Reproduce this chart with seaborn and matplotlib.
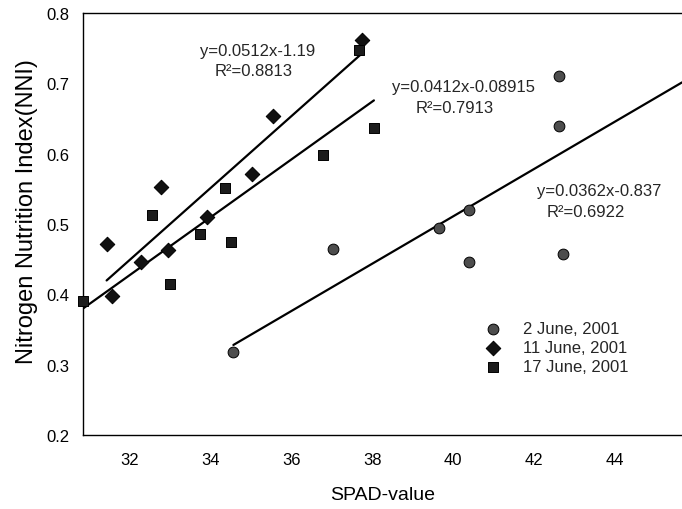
import numpy as np
import pandas as pd
import matplotlib
matplotlib.use("Agg")
import matplotlib.pyplot as plt
import seaborn as sns

# ---- data ----
series_names = ["2 June, 2001", "11 June, 2001", "17 June, 2001"]

june2_x = [34.57, 37.04, 39.65, 40.40, 40.40, 42.60, 42.60, 42.72]
june2_y = [0.318, 0.465, 0.494, 0.446, 0.520, 0.710, 0.640, 0.457]

june11_x = [31.44, 31.57, 32.29, 32.78, 32.95, 33.93, 35.02, 35.54, 37.75]
june11_y = [0.472, 0.398, 0.446, 0.552, 0.463, 0.510, 0.571, 0.653, 0.761]

june17_x = [30.86, 32.57, 33.00, 33.75, 34.36, 34.51, 36.79, 37.66, 38.04]
june17_y = [0.391, 0.513, 0.415, 0.486, 0.551, 0.475, 0.598, 0.748, 0.636]

# regression lines as drawn (slope, intercept)
fit_slope = [0.0337, 0.0512, 0.0412]
fit_intercept = [-0.837, -1.19, -0.8915]
extend_to_edge = [True, False, False]

eq_labels = ["y=0.0362x-0.837", "y=0.0512x-1.19", "y=0.0412x-0.08915"]
r2_labels = ["R\u00b2=0.6922", "R\u00b2=0.8813", "R\u00b2=0.7913"]
eq_pos = [(43.60, 0.547), (35.18, 0.746), (40.26, 0.695)]
r2_pos = [(43.28, 0.518), (35.08, 0.718), (40.04, 0.666)]

x_ticks = [32, 34, 36, 38, 40, 42, 44]
y_ticks = [0.2, 0.3, 0.4, 0.5, 0.6, 0.7, 0.8]
x_lim = (30.857, 45.647)
y_lim = (0.2, 0.8)

# ---- build table ----
xs = [june2_x, june11_x, june17_x]
ys = [june2_y, june11_y, june17_y]
df = pd.concat([pd.DataFrame({"SPAD": x, "NNI": y, "Date": n})
                for x, y, n in zip(xs, ys, series_names)], ignore_index=True)

fit_rows = []
for i, n in enumerate(series_names):
    x0 = min(xs[i])
    x1 = x_lim[1] if extend_to_edge[i] else max(xs[i])
    for xv in (x0, x1):
        fit_rows.append({"SPAD": xv, "NNI": fit_slope[i] * xv + fit_intercept[i], "Date": n})
fit_df = pd.DataFrame(fit_rows)

# ---- style ----
sns.set_theme(style="white")
plt.rcParams["font.family"] = ["Liberation Sans", "DejaVu Sans"]

fig = plt.figure(figsize=(6.82, 5.10), dpi=100)
ax = fig.add_axes([83 / 682, 1 - 436 / 510, 1 - 83 / 682, (436 - 14) / 510])

sns.lineplot(data=fit_df, x="SPAD", y="NNI", units="Date", estimator=None,
             color="black", linewidth=1.6, ax=ax, legend=False)

palette = {series_names[0]: "#4d4d4d", series_names[1]: "#111111", series_names[2]: "#1c1c1c"}
markers = {series_names[0]: "o", series_names[1]: "D", series_names[2]: "s"}
sizes = {series_names[0]: 60, series_names[1]: 55, series_names[2]: 55}
for n in series_names:
    sub = df[df["Date"] == n]
    sns.scatterplot(data=sub, x="SPAD", y="NNI", color=palette[n], marker=markers[n],
                    s=sizes[n], edgecolor="black", linewidth=0.7, ax=ax,
                    label=n, clip_on=False, zorder=3)

for i in range(3):
    ax.text(eq_pos[i][0], eq_pos[i][1], eq_labels[i], ha="center", va="center", fontsize=12)
    ax.text(r2_pos[i][0], r2_pos[i][1], r2_labels[i], ha="center", va="center", fontsize=12)

ax.set_xlim(*x_lim)
ax.set_ylim(*y_lim)
ax.set_xticks(x_ticks)
ax.set_xticklabels([str(t) for t in x_ticks])
ax.set_yticks(y_ticks)
ax.set_yticklabels([f"{t:.1f}" for t in y_ticks])
ax.tick_params(axis="both", which="major", direction="out", length=4, width=1,
               color="black", labelsize=12, labelcolor="black", pad=6)
ax.tick_params(axis="x", pad=8)

for side in ["left", "bottom", "top"]:
    ax.spines[side].set_visible(True)
    ax.spines[side].set_color("black")
    ax.spines[side].set_linewidth(1.0)
ax.spines["right"].set_visible(False)

ax.set_xlabel("SPAD-value", fontsize=14, color="black", labelpad=14)
ax.set_ylabel("Nitrogen Nutrition Index(NNI)", fontsize=17, color="black")
ax.yaxis.set_label_coords(-0.075, 0.533)

ax.legend(loc="upper left", bbox_to_anchor=(0.671, 0.27), frameon=False, fontsize=12,
          handlelength=1.0, handletextpad=1.3, labelspacing=0.25, borderpad=0,
          borderaxespad=0, markerscale=1.0)

fig.savefig("out.png", dpi=100)
